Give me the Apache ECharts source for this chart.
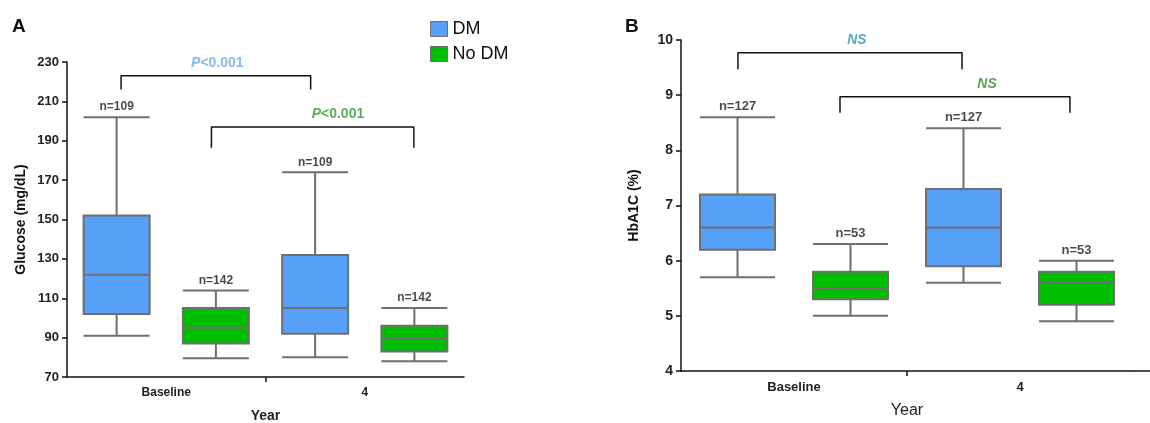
<!DOCTYPE html>
<html>
<head>
<meta charset="utf-8">
<script src="https://cdn.jsdelivr.net/npm/echarts@6/dist/echarts.min.js"></script>
<style>
html,body{margin:0;padding:0;background:#fff;}
#chart{width:1150px;height:423px;}
</style>
</head>
<body>
<div id="chart"></div>
<script>
// 年份 / 分组
var years = ['Baseline', '4'];
var groups = ['DM', 'No DM'];

// A: 血糖 [min, Q1, median, Q3, max]
var glucoseDM = [[91, 102, 122, 152, 202], [80, 92, 105, 132, 174]];
var glucoseNoDM = [[79.5, 87, 95, 105, 114], [78, 83, 89.5, 96, 105]];
var glucoseNDM = ['n=109', 'n=109'];
var glucoseNNoDM = ['n=142', 'n=142'];
var glucoseTicks = [70, 90, 110, 130, 150, 170, 190, 210, 230];

// B: HbA1C [min, Q1, median, Q3, max]
var hba1cDM = [[5.7, 6.2, 6.6, 7.2, 8.6], [5.6, 5.9, 6.6, 7.3, 8.4]];
var hba1cNoDM = [[5.0, 5.3, 5.5, 5.8, 6.3], [4.9, 5.2, 5.6, 5.8, 6.0]];
var hba1cNDM = ['n=127', 'n=127'];
var hba1cNNoDM = ['n=53', 'n=53'];
var hba1cTicks = [4, 5, 6, 7, 8, 9, 10];

// 显著性标注
var bracketsA = [
  {left: 0.545, right: 2.455, top: 223, foot: 216, text: 'P<0.001', at: 1.515, color: '#6aa8f0', p: true},
  {left: 1.455, right: 3.495, top: 197, foot: 186.5, text: 'P<0.001', at: 2.73, color: '#2e9a2e', p: true}
];
var bracketsB = [
  {left: 0.504, right: 2.487, top: 9.77, foot: 9.47, text: 'NS', at: 1.557, color: '#2898b6', p: false},
  {left: 1.407, right: 3.442, top: 8.97, foot: 8.68, text: 'NS', at: 2.708, color: '#2e8b2e', p: false}
];

var blue = '#56a0f7', green = '#00be00', edge = '#6f6f6f';
var font = 'Liberation Sans, Arial, sans-serif';

var myChart = echarts.init(document.getElementById('chart'));

function catAxis(grid, gap, weight, size, labelSize) {
  return {
    type: 'category', gridIndex: grid, data: years, position: 'bottom',
    boundaryGap: true,
    axisLine: {lineStyle: {color: '#111', width: 1.5}},
    axisTick: {show: false},
    axisLabel: {color: '#222', fontFamily: font, fontWeight: 'bold', fontSize: labelSize, margin: 10},
    name: 'Year', nameLocation: 'middle', nameGap: gap,
    nameTextStyle: {color: '#222', fontFamily: font, fontWeight: weight, fontSize: size}
  };
}
function slotAxis(grid, visible) {
  return {
    type: 'value', gridIndex: grid, min: 0, max: 4, interval: 2, position: 'bottom',
    show: visible,
    axisLine: {show: false},
    axisLabel: {show: false},
    splitLine: {show: false},
    axisTick: {show: true, customValues: [2], length: 5, lineStyle: {color: '#111', width: 1.5}}
  };
}
function valAxis(grid, ticks, name, gap, size) {
  return {
    type: 'value', gridIndex: grid, min: ticks[0], max: ticks[ticks.length - 1],
    interval: ticks[1] - ticks[0],
    axisLine: {show: true, lineStyle: {color: '#111', width: 1.5}},
    axisTick: {show: true, length: 5, lineStyle: {color: '#111', width: 1.5}},
    splitLine: {show: false},
    axisLabel: {color: '#222', fontFamily: font, fontWeight: 'bold', fontSize: size, margin: 8},
    name: name, nameLocation: 'middle', nameGap: gap,
    nameTextStyle: {color: '#111', fontFamily: font, fontWeight: 'bold', fontSize: 14}
  };
}

function boxSeries(name, color, vals, offset, xi, yi, w) {
  return {
    name: name, type: 'boxplot', xAxisIndex: xi, yAxisIndex: yi,
    boxWidth: [w, w], silent: true,
    itemStyle: {color: color, borderColor: edge, borderWidth: 2},
    data: vals.map(function (v, i) { return [2 * i + offset].concat(v); })
  };
}
function nSeries(vals, labels, offset, xi, yi, size) {
  return {
    type: 'scatter', xAxisIndex: xi, yAxisIndex: yi, symbolSize: 0, silent: true,
    label: {show: true, position: 'top', distance: 4, color: '#1a1a1a', fontFamily: font,
      fontWeight: 'bold', fontSize: size,
      formatter: function (p) { return labels[p.dataIndex]; }},
    data: vals.map(function (v, i) { return [2 * i + offset, v[4]]; })
  };
}
function bracketSeries(list, xi, yi) {
  var out = [];
  list.forEach(function (b) {
    out.push({
      type: 'line', xAxisIndex: xi, yAxisIndex: yi, symbol: 'none', silent: true,
      lineStyle: {color: '#111', width: 1.5},
      data: [[b.left, b.foot], [b.left, b.top], [b.right, b.top], [b.right, b.foot]]
    });
    out.push({
      type: 'scatter', xAxisIndex: xi, yAxisIndex: yi, symbolSize: 0, silent: true,
      label: {show: true, position: 'top', distance: 6,
        formatter: b.p ? '{i|P}{n|' + b.text.slice(1) + '}' : '{i|' + b.text + '}',
        rich: {
          i: {color: b.color, fontFamily: font, fontWeight: 'bold', fontStyle: 'italic', fontSize: 14},
          n: {color: b.color, fontFamily: font, fontWeight: 'bold', fontSize: 14}
        }},
      data: [[b.at, b.top]]
    });
  });
  return out;
}

var series = [
  boxSeries(groups[0], blue, glucoseDM, 0.5, 1, 0, 66),
  boxSeries(groups[1], green, glucoseNoDM, 1.5, 2, 0, 66),
  nSeries(glucoseDM, glucoseNDM, 0.5, 1, 0, 12),
  nSeries(glucoseNoDM, glucoseNNoDM, 1.5, 1, 0, 12),
  boxSeries(groups[0], blue, hba1cDM, 0.5, 4, 1, 75),
  boxSeries(groups[1], green, hba1cNoDM, 1.5, 5, 1, 75),
  nSeries(hba1cDM, hba1cNDM, 0.5, 4, 1, 13),
  nSeries(hba1cNoDM, hba1cNNoDM, 1.5, 4, 1, 13)
].concat(bracketSeries(bracketsA, 1, 0), bracketSeries(bracketsB, 4, 1));

var option = {
  animation: false,
  backgroundColor: '#fff',
  legend: {
    data: [
      {name: groups[0], itemStyle: {color: blue, borderColor: edge, borderWidth: 1}},
      {name: groups[1], itemStyle: {color: green, borderColor: edge, borderWidth: 1}}
    ],
    orient: 'vertical', left: 425, top: 15,
    icon: 'rect', itemWidth: 17, itemHeight: 15, itemGap: 7,
    textStyle: {color: '#111', fontFamily: font, fontSize: 18},
    selectedMode: false
  },
  grid: [
    {left: 67, top: 62, width: 397, height: 315, outerBoundsMode: 'none', containLabel: false},
    {left: 681, top: 40, width: 452, height: 331, outerBoundsMode: 'none', containLabel: false}
  ],
  xAxis: [
    catAxis(0, 32, 'bold', 14, 12), slotAxis(0, true), slotAxis(0, false),
    catAxis(1, 32, 'normal', 16, 13), slotAxis(1, true), slotAxis(1, false)
  ],
  yAxis: [
    valAxis(0, glucoseTicks, 'Glucose (mg/dL)', 39, 13),
    valAxis(1, hba1cTicks, 'HbA1C (%)', 40, 14)
  ],
  graphic: [
    {type: 'text', left: 12, top: 17, style: {text: 'A', fontFamily: font, fontWeight: 'bold', fontSize: 19, fill: '#111'}},
    {type: 'text', left: 625, top: 17, style: {text: 'B', fontFamily: font, fontWeight: 'bold', fontSize: 19, fill: '#111'}},
    {type: 'line', shape: {x1: 1133, y1: 371, x2: 1150, y2: 371}, style: {stroke: '#111', lineWidth: 1.5}}
  ],
  series: series
};

myChart.setOption(option);
</script>
</body>
</html>
